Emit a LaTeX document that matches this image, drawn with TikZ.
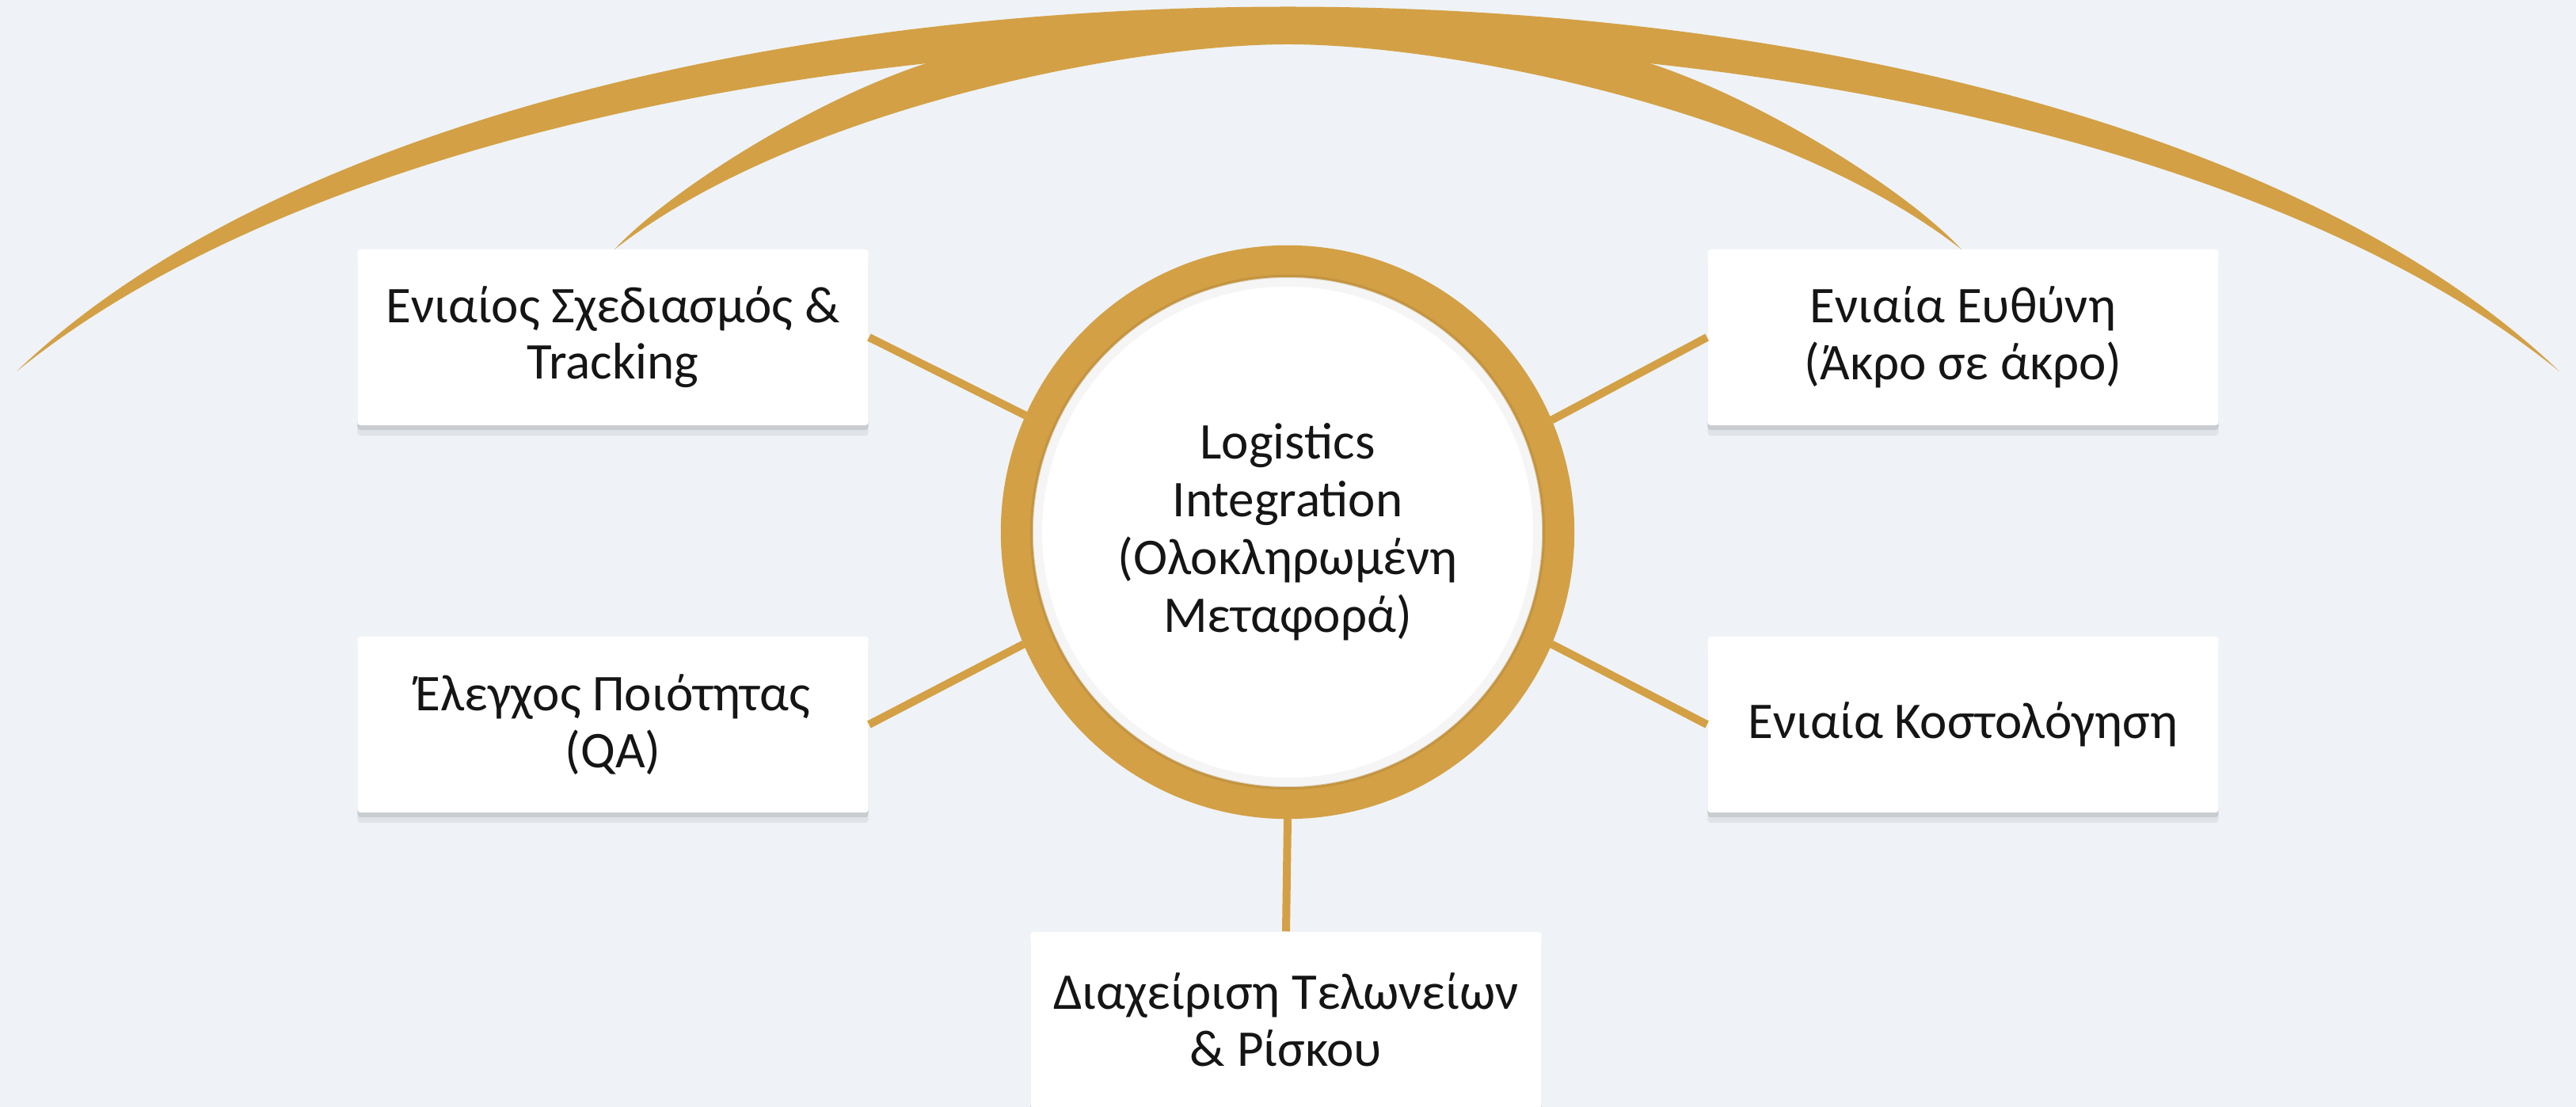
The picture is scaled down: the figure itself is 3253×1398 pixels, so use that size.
\documentclass[tikz,border=0pt]{standalone}
\usepackage{fontspec}
\setmainfont{Carlito}
\usetikzlibrary{shadows}
\definecolor{gold}{HTML}{D3A045}
\definecolor{paper}{HTML}{EFF3F7}
\definecolor{ink}{HTML}{151515}

\begin{document}
\begin{tikzpicture}[x = 0.01cm, y = -0.01cm]
\tikzstyle{boxStyle} = [rectangle, fill = white, rounded corners = 0.04cm, minimum width = 6.45cm, minimum height = 2.22cm, align = center, text = ink, font = \fontsize{18.5}{20.3}\selectfont, drop shadow = {shadow xshift = 0cm, shadow yshift = -0.13cm, opacity = 0.06, fill = black}, drop shadow = {shadow xshift = 0cm, shadow yshift = -0.06cm, opacity = 0.10, fill = black}]
\tikzstyle{hubStyle} = [circle, fill = white, draw = gold, line width = 0.4cm, minimum size = 6.84cm, inner sep = 0pt, align = center, text = ink, font = \fontsize{18.5}{20.8}\selectfont]
\tikzstyle{linkStyle} = [draw = gold, line width = 0.1cm]
\fill[paper] (0,0) rectangle (3253,1398);
\useasboundingbox (0,0) rectangle (3253,1398);
\fill[gold] (21,469) .. controls (661,-145) and (2592,-145) .. (3232,469) .. controls (2553,-82) and (700,-82) .. (21,469) -- cycle;
\fill[gold] (776,315) .. controls (850,235) and (1060,105) .. (1211,68) -- (1627,48) -- (1627,56) .. controls (1420,56) and (1000,140) .. (776,315) -- cycle;
\fill[gold] (2477,315) .. controls (2403,235) and (2193,105) .. (2042,68) -- (1626,48) -- (1626,56) .. controls (1833,56) and (2253,140) .. (2477,315) -- cycle;
\node[hubStyle] (hub) at (1626,672) {Logistics\\Integration\\(Ολοκληρωμένη\\Μεταφορά)};
\draw[black, opacity = 0.04, line width = 0.12cm] (hub.center) circle (3.16cm);
\draw[gold!80!black, opacity = 0.35, line width = 0.04cm] (hub.center) circle (3.23cm);
\node[boxStyle] (plan) at (774,426) {Ενιαίος Σχεδιασμός \&\\Tracking};
\node[boxStyle] (resp) at (2479,426) {Ενιαία Ευθύνη\\(Άκρο σε άκρο)};
\node[boxStyle] (qa) at (774,915) {Έλεγχος Ποιότητας\\(QA)};
\node[boxStyle] (cost) at (2479,915) {Ενιαία Κοστολόγηση};
\node[boxStyle] (customs) at (1624,1288) {Διαχείριση Τελωνείων\\\& Ρίσκου};
\path
(plan.east) edge [linkStyle] (hub.156.5)
(qa.east) edge [linkStyle] (hub.203.5)
(resp.west) edge [linkStyle] (hub.23.5)
(cost.west) edge [linkStyle] (hub.-23.5)
(hub.south) edge [linkStyle] (customs.north);
\end{tikzpicture}
\end{document}
